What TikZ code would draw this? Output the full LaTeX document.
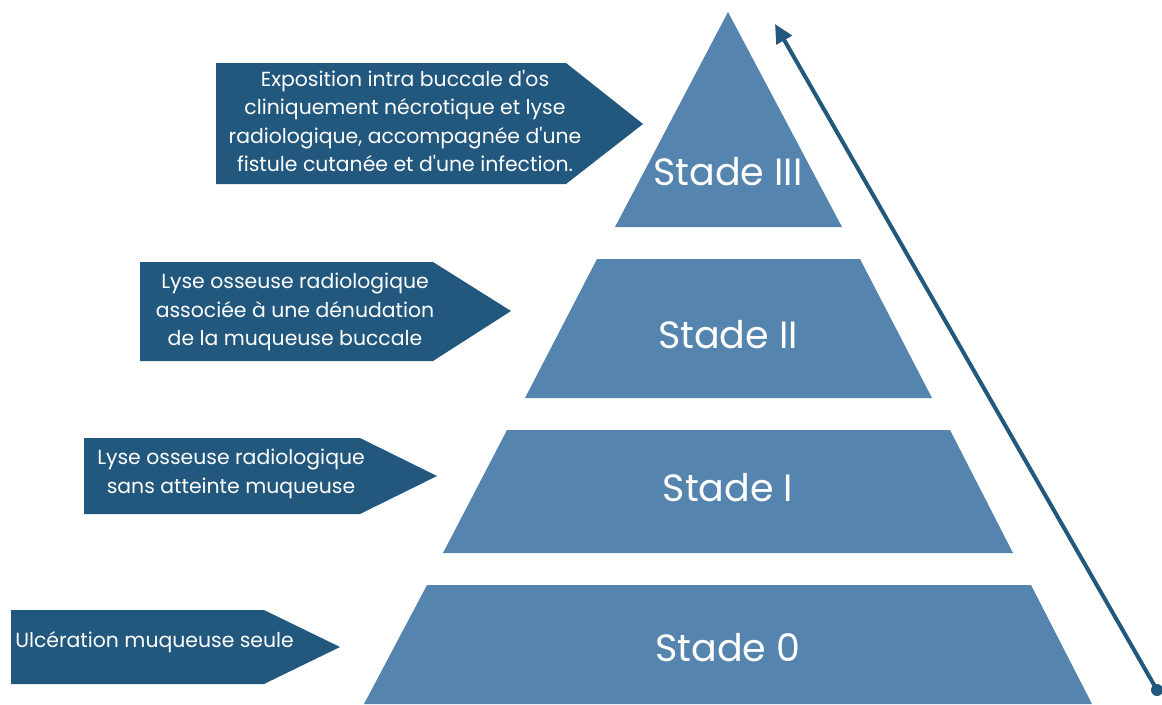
\documentclass[tikz,border=0pt]{standalone}
\usepackage{fontspec}
\setmainfont{Poppins}[Ligatures=TeXOff]
\usetikzlibrary{positioning,arrows.meta}
\definecolor{pyrblue}{RGB}{85,133,174}
\definecolor{boxblue}{RGB}{35,88,126}
\tikzset{
  band/.style={fill=pyrblue, draw=none},
  callout/.style={fill=boxblue, draw=none},
  stadetxt/.style={text=white, font=\fontsize{28.5}{32}\selectfont},
  notetxt/.style={text=white, align=center, font=\fontsize{15.3}{21.4}\selectfont, inner sep=0pt}
}
\begin{document}
\begin{tikzpicture}[x=0.75pt, y=-0.75pt, line cap=round, line join=round]
  \useasboundingbox (0,0) rectangle (1162,704);
  % pyramid bands
  \fill[band] (728,12) -- (842,227) -- (615,227) -- cycle;
  \fill[band] (597,259) -- (860,259) -- (932,398) -- (525,398) -- cycle;
  \fill[band] (507,430) -- (950,430) -- (1013,553) -- (443,553) -- cycle;
  \fill[band] (427,585) -- (1031,585) -- (1092,704) -- (364,704) -- cycle;
  \node[stadetxt] (s3) at (728,172) {Stade III};
  \node[stadetxt] (s2) at (728,335) {Stade II};
  \node[stadetxt] (s1) at (728,488) {Stade I};
  \node[stadetxt] (s0) at (728,648) {Stade 0};
  % callouts
  \fill[callout] (216,63) -- (566,63) -- (643,124) -- (566,184) -- (216,184) -- cycle;
  \fill[callout] (140,262) -- (433,262) -- (511,311) -- (433,361) -- (140,361) -- cycle;
  \fill[callout] (84,438) -- (360,438) -- (437,476) -- (360,514) -- (84,514) -- cycle;
  \fill[callout] (11,610) -- (264,610) -- (340,647) -- (264,684) -- (11,684) -- cycle;
  \node[notetxt] (n3) at (405,121) {Exposition intra buccale d'os\\cliniquement nécrotique et lyse\\radiologique, accompagnée d'une\\fistule cutanée et d'une infection.};
  \node[notetxt] (n2) at (295,312) {Lyse osseuse radiologique\\associée à une dénudation\\de la muqueuse buccale};
  \node[notetxt] (n1) at (231,474) {Lyse osseuse radiologique\\sans atteinte muqueuse};
  \node[notetxt, anchor=west] (n0) at (15,642) {Ulcération muqueuse seule};
  % severity arrow
  \coordinate (low) at (1157,690);
  \coordinate (high) at (775,24);
  \draw[boxblue, line width=3pt, -{Triangle[length=14pt,width=13pt]}] (low) -- (high);
  \fill[boxblue] (low) circle (6);
\end{tikzpicture}
\end{document}
